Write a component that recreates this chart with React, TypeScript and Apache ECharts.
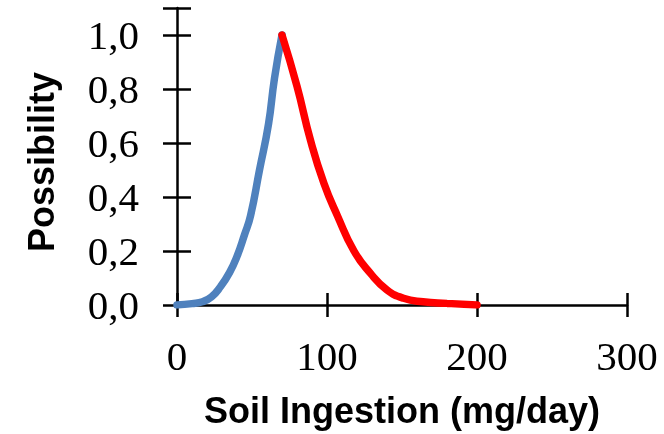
import React, { useEffect, useRef } from "react";
import * as echarts from "echarts";

const risingX = [0, 10, 17, 23, 29, 35, 40, 45, 49, 55, 61, 65, 70];
const risingY = [0, 0.005, 0.012, 0.03, 0.068, 0.12, 0.18, 0.26, 0.33, 0.5, 0.67, 0.84, 1.0];
const fallingX = [70, 80, 89, 98, 107, 118, 129, 140, 151, 164, 180, 200];
const fallingY = [1.0, 0.81, 0.61, 0.45, 0.33, 0.2, 0.117, 0.056, 0.025, 0.012, 0.006, 0];
const xTicks = [0, 100, 200, 300];
const yTicks = [0, 0.2, 0.4, 0.6, 0.8, 1.0];
const xName = "Soil Ingestion (mg/day)";
const yName = "Possibility";

export default function App() {
  const ref = useRef<HTMLDivElement>(null);
  useEffect(() => {
    if (!ref.current) return;
    const chart = echarts.init(ref.current, null, { renderer: "svg" });
    const serif = "'Liberation Serif', 'Times New Roman', serif";
    const sans = "'Liberation Sans', Arial, sans-serif";
    const tickStyle = { color: "#000", width: 2.5 };
    const xBase = { type: "value" as const, min: xTicks[0], max: xTicks[xTicks.length - 1], interval: 100, splitLine: { show: false } };
    const yBase = { type: "value" as const, min: 0, max: 1.1, interval: 0.2, splitLine: { show: false } };
    chart.setOption({
      animation: false,
      grid: { left: 177, right: 37, top: 8, bottom: 129, containLabel: false },
      xAxis: [
        {
          ...xBase,
          position: "bottom",
          axisLine: { show: true, lineStyle: { color: "#000", width: 2.5 } },
          axisTick: { show: true, inside: false, length: 12, lineStyle: tickStyle },
          axisLabel: { show: true, margin: 30, color: "#000", fontFamily: serif, fontSize: 41 },
          name: xName,
          nameLocation: "middle",
          nameGap: 87,
          nameTextStyle: { color: "#000", fontFamily: sans, fontWeight: "bold", fontSize: 36 },
        },
        {
          ...xBase,
          position: "bottom",
          axisLine: { show: false },
          axisTick: { show: true, inside: true, length: 12, lineStyle: tickStyle },
          axisLabel: { show: false },
        },
      ],
      yAxis: [
        {
          ...yBase,
          axisLine: { show: true, lineStyle: { color: "#000", width: 2.5 } },
          axisTick: { show: true, inside: false, length: 14, lineStyle: tickStyle },
          axisLabel: {
            show: true,
            margin: 38,
            color: "#000",
            fontFamily: serif,
            fontSize: 41,
            formatter: (v: number) => (yTicks.some((t) => Math.abs(t - v) < 1e-9) ? v.toFixed(1).replace(".", ",") : ""),
          },
        },
        {
          ...yBase,
          position: "left",
          axisLine: { show: false },
          axisTick: { show: true, inside: true, length: 14, lineStyle: tickStyle },
          axisLabel: { show: false },
        },
      ],
      graphic: [
        {
          type: "text",
          x: 41,
          y: 162,
          rotation: Math.PI / 2,
          style: {
            text: yName,
            fill: "#000",
            font: `bold 36px ${sans}`,
            textAlign: "center",
            textVerticalAlign: "middle",
          },
        },
      ],
      series: [
        {
          type: "line",
          data: risingX.map((x, i) => [x, risingY[i]]),
          smooth: 0.5,
          showSymbol: false,
          lineStyle: { color: "#4F81BD", width: 7.5, cap: "round", join: "round" },
          z: 2,
        },
        {
          type: "line",
          data: fallingX.map((x, i) => [x, fallingY[i]]),
          smooth: 0.5,
          showSymbol: false,
          lineStyle: { color: "#FF0000", width: 7.5, cap: "round", join: "round" },
          z: 3,
        },
      ],
    });
    return () => chart.dispose();
  }, []);
  return <div ref={ref} style={{ position: "fixed", left: 0, top: 0, width: 664, height: 434 }} />;
}
